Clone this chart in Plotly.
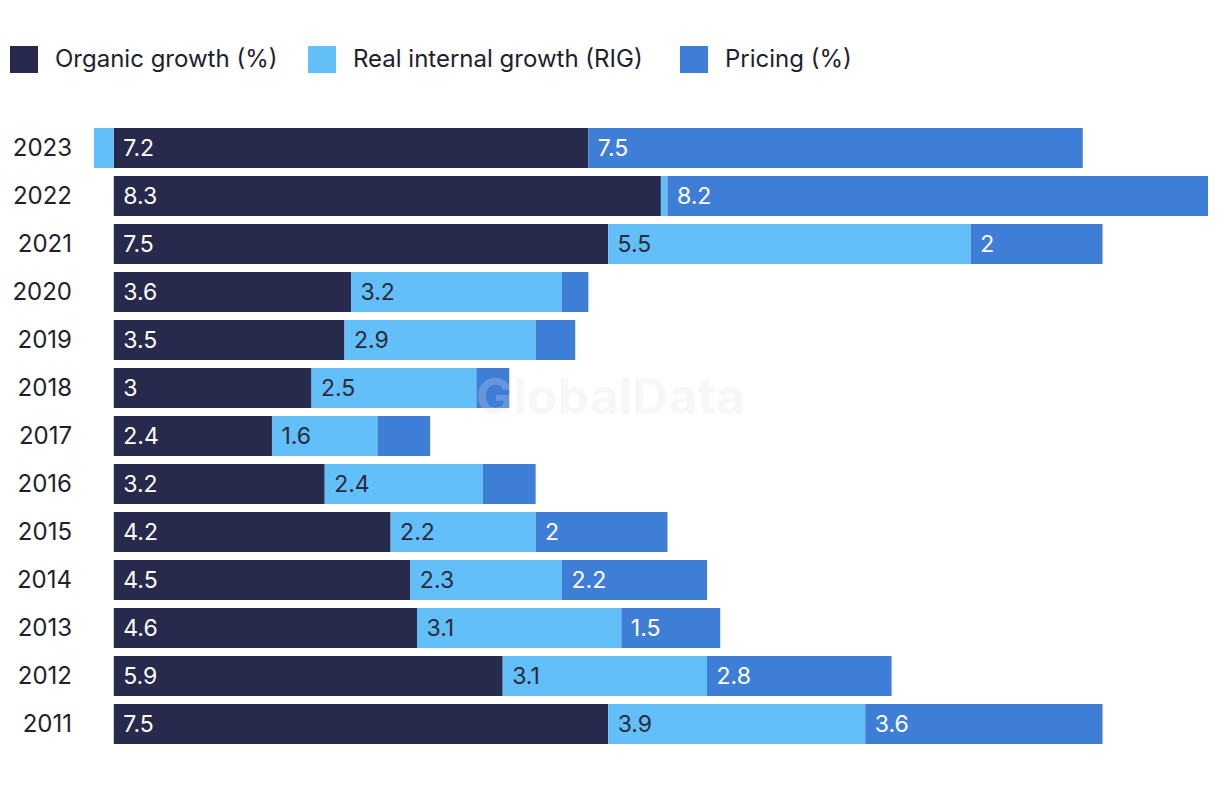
import plotly.graph_objects as go

years = ["2023", "2022", "2021", "2020", "2019", "2018", "2017", "2016", "2015", "2014", "2013", "2012", "2011"]
organic = [7.2, 8.3, 7.5, 3.6, 3.5, 3.0, 2.4, 3.2, 4.2, 4.5, 4.6, 5.9, 7.5]
rig = [-0.3, 0.1, 5.5, 3.2, 2.9, 2.5, 1.6, 2.4, 2.2, 2.3, 3.1, 3.1, 3.9]
pricing = [7.5, 8.2, 2.0, 0.4, 0.6, 0.5, 0.8, 0.8, 2.0, 2.2, 1.5, 2.8, 3.6]
series_names = ["Organic growth (%)", "Real internal growth (RIG)", "Pricing (%)"]

colors = ["#27294d", "#62bff8", "#3f7ed6"]
label_colors = ["#ffffff", "#2a2a3a", "#ffffff"]
FONT = "Inter, Liberation Sans, Arial, sans-serif"

def labels(vals):
    return ["\u00a0" + f"{v:g}" if abs(v) >= 1 else "" for v in vals]

fig = go.Figure()
for name, vals, c, lc in zip(series_names, [organic, rig, pricing], colors, label_colors):
    fig.add_trace(go.Bar(
        y=years, x=vals, name=name, orientation="h",
        marker=dict(color=c, line=dict(width=0)),
        text=labels(vals), textposition="inside", insidetextanchor="start",
        textfont=dict(family=FONT, size=23, color=lc),
        constraintext="none", cliponaxis=False,
        hoverinfo="x+y+name", showlegend=False,
    ))

# page body adds an 8px offset; geometry below is in screen pixels
OFF = 8
FW, FH = 1220, 788
PL, PR, PT, PB = 94, 1208, 124, 748          # plot area on screen
L, T = PL - OFF, PT - OFF
R, B = FW - (PR - OFF), FH - (PB - OFF)
W, H = PR - PL, PB - PT
def px(x):
    return (x - PL) / W
def py(y):
    return (PB - y) / H

shapes = []
annotations = []
sq_x = [10, 308, 680]
txt_x = [55, 353, 725]
for name, c, sx, tx in zip(series_names, colors, sq_x, txt_x):
    shapes.append(dict(type="rect", xref="paper", yref="paper",
                       x0=px(sx), x1=px(sx + 28), y0=py(73), y1=py(46),
                       fillcolor=c, line=dict(width=0)))
    annotations.append(dict(xref="paper", yref="paper", x=px(tx - 2), y=py(59),
                            xanchor="left", yanchor="middle", showarrow=False,
                            text=name, font=dict(family=FONT, size=24, color="#1d1e2f")))

annotations.append(dict(xref="paper", yref="paper", x=px(610), y=py(396),
                        xanchor="center", yanchor="middle", showarrow=False,
                        text="<b>GlobalData</b>",
                        font=dict(family=FONT, size=50, color="rgba(225,225,230,0.25)")))

fig.update_layout(
    width=FW, height=FH,
    barmode="relative", bargap=0.167,
    plot_bgcolor="white", paper_bgcolor="white",
    margin=dict(l=L, r=R, t=T, b=B, autoexpand=False),
    xaxis=dict(range=[-0.3, 16.6], showgrid=False, zeroline=False, automargin=False,
               showticklabels=False, showline=False, fixedrange=True),
    yaxis=dict(autorange="reversed", showgrid=False, zeroline=False, showline=False,
               automargin=False,
               tickfont=dict(family=FONT, size=24, color="#1d1e2f"),
               ticklabelstandoff=21, ticks="", fixedrange=True),
    shapes=shapes, annotations=annotations,
    font=dict(family=FONT),
)

fig.write_html("out.html")
